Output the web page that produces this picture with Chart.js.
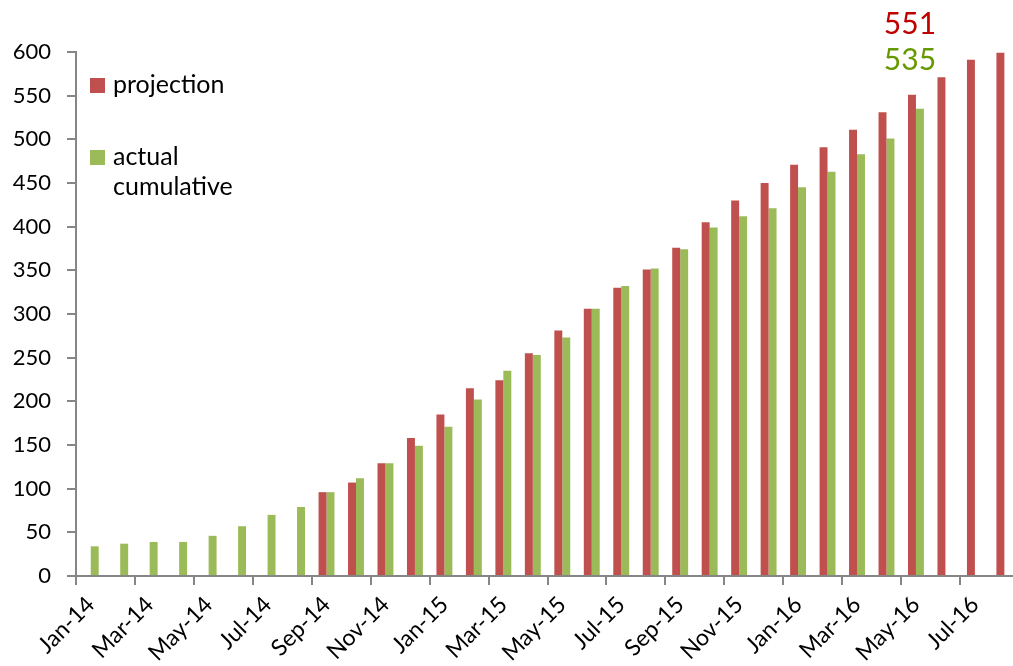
<!DOCTYPE html>
<html>
<head>
<meta charset="utf-8">
<script src="https://cdn.jsdelivr.net/npm/chart.js@4.4.1/dist/chart.umd.min.js"></script>
<style>
  html, body { margin: 0; padding: 0; background: #fff; overflow: hidden; }
  #wrap { position: relative; width: 1030px; height: 666px; }
</style>
</head>
<body>
<div id="wrap"><canvas id="c"></canvas></div>
<script>
// months, Jan-14 .. Aug-16
const months = [
    "Jan-14","Feb-14","Mar-14","Apr-14","May-14","Jun-14","Jul-14","Aug-14",
    "Sep-14","Oct-14","Nov-14","Dec-14",
    "Jan-15","Feb-15","Mar-15","Apr-15","May-15","Jun-15","Jul-15","Aug-15",
    "Sep-15","Oct-15","Nov-15","Dec-15",
    "Jan-16","Feb-16","Mar-16","Apr-16","May-16","Jun-16","Jul-16","Aug-16"
];

const projection = [
    null, null, null, null, null, null, null, null,
    96, 107, 129, 158,
    185, 215, 224, 255, 281, 306, 330, 351, 376, 405, 430, 450,
    471, 491, 511, 531, 551, 571, 591, 599
];

const actualCumulative = [
    34, 37, 39, 39, 46, 57, 70, 79,
    96, 112, 129, 149,
    171, 202, 235, 253, 273, 306, 332, 352, 374, 399, 412, 421,
    445, 463, 483, 501, 535, null, null, null
];

const legendLines = [
    ["projection"],
    ["actual", "cumulative"]
];

// callouts above the last actual month
const callouts = [
    { text: "551", month: "May-16", color: "#C00000" },
    { text: "535", month: "May-16", color: "#669900" }
];

const RED = "#C0504D";
const GREEN = "#9BBB59";
const AXIS = "#868686";
const FONT = "Lato, 'Open Sans', sans-serif";

const overlay = {
    id: "overlay",
    afterDraw(chart) {
        const ctx = chart.ctx;
        const area = chart.chartArea;
        const x = chart.scales.x;
        const y = chart.scales.y;

        ctx.save();

        // legend
        ctx.font = "25px " + FONT;
        ctx.textBaseline = "middle";
        ctx.textAlign = "left";
        let top = area.top + 26;
        chart.data.datasets.forEach((ds, i) => {
            ctx.fillStyle = ds.backgroundColor;
            ctx.fillRect(area.left + 14, top, 15, 15);
            ctx.fillStyle = "#000";
            legendLines[i].forEach((line, j) => {
                ctx.fillText(line, area.left + 37, top + 7 + j * 30);
            });
            top += 72;
        });

        // callouts
        ctx.font = "30px " + FONT;
        ctx.textAlign = "center";
        callouts.forEach((c, i) => {
            const px = x.getPixelForValue(months.indexOf(c.month)) - 6;
            const py = y.getPixelForValue(551) - 70 + i * 36;
            ctx.fillStyle = c.color;
            ctx.fillText(c.text, px, py);
        });

        ctx.restore();
    }
};

new Chart(
    document.getElementById("c"),
    {
        type: "bar",
        data: {
            labels: months,
            datasets: [
                {
                    label: "projection",
                    data: projection,
                    backgroundColor: RED
                },
                {
                    label: "actual cumulative",
                    data: actualCumulative,
                    backgroundColor: GREEN
                }
            ]
        },
        options: {
            responsive: true,
            maintainAspectRatio: false,
            animation: false,
            devicePixelRatio: 1,
            layout: {
                padding: { top: 52, right: 7, left: 0, bottom: 0 }
            },
            datasets: {
                bar: {
                    categoryPercentage: 0.54,
                    barPercentage: 1.0
                }
            },
            plugins: {
                legend: { display: false },
                tooltip: { enabled: false }
            },
            scales: {
                x: {
                    offset: true,
                    grid: {
                        offset: true,
                        drawOnChartArea: false,
                        drawTicks: true,
                        tickLength: 9,
                        lineWidth: 2,
                        color: (c) => (c.index % 2 === 0 ? AXIS : "rgba(0,0,0,0)")
                    },
                    border: { color: AXIS, width: 2 },
                    ticks: {
                        autoSkip: false,
                        maxRotation: 45,
                        minRotation: 45,
                        padding: 6,
                        color: "#000",
                        font: { family: FONT, size: 23 },
                        callback: (v, i) => (i % 2 === 0 ? months[i] : "")
                    },
                    afterFit: (s) => { s.height = 90; }
                },
                y: {
                    min: 0,
                    max: 600,
                    grid: {
                        drawOnChartArea: false,
                        drawTicks: true,
                        tickLength: 9,
                        lineWidth: 2,
                        color: AXIS
                    },
                    border: { color: AXIS, width: 2 },
                    ticks: {
                        stepSize: 50,
                        padding: 16,
                        color: "#000",
                        font: { family: FONT, size: 22 }
                    },
                    afterFit: (s) => { s.width = 76; }
                }
            }
        },
        plugins: [overlay]
    }
);
</script>
</body>
</html>
